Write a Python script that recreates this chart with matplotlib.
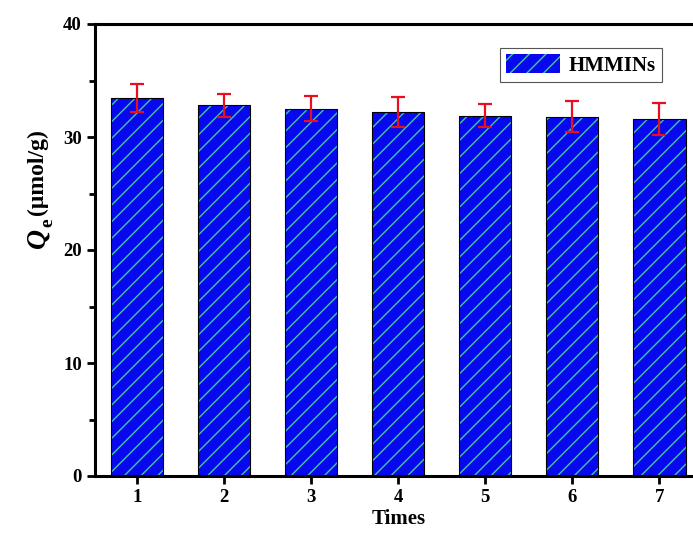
import numpy as np
import matplotlib.pyplot as plt
from matplotlib.patches import Patch

plt.rcParams['font.family'] = ['Liberation Serif', 'DejaVu Serif']
plt.rcParams['font.weight'] = 'bold'
plt.rcParams['hatch.linewidth'] = 1.0

times = [1, 2, 3, 4, 5, 6, 7]
qe = [33.45, 32.8, 32.5, 32.2, 31.9, 31.8, 31.6]
err = [1.2, 1.0, 1.1, 1.3, 1.0, 1.4, 1.45]

blue = '#0808ee'
hatch_col = '#40c8a0'

fig = plt.figure(figsize=(6.93, 5.39), dpi=100)
# right spine falls outside the picture, as in the original crop
ax = fig.add_axes([95/693, 1 - 476/539, 608/693, 452/539])

# hatched fill, then black outline on top
ax.bar(times, qe, width=0.6, color=blue, edgecolor=hatch_col, hatch='//', linewidth=0)
ax.bar(times, qe, width=0.6, fill=False, edgecolor='black', linewidth=0.8)
ax.errorbar(times, qe, yerr=err, fmt='none', ecolor='#e8101e', elinewidth=1.6,
            capsize=5, capthick=1.6)

h = Patch(facecolor=blue, edgecolor=hatch_col, hatch='//', linewidth=0)
leg = ax.legend([h], ['HMMINs'], loc='upper right', bbox_to_anchor=(0.95, 0.97),
                fancybox=False, framealpha=1, edgecolor='#555555',
                prop={'size': 15, 'weight': 'bold'}, handlelength=2.6,
                handleheight=1.0, borderpad=0.3, handletextpad=0.4)
leg.get_frame().set_linewidth(0.8)

ax.set_xlim(0.52, 7.5)
ax.set_ylim(0, 40)
ax.set_xticks(times)
ax.set_yticks([0, 10, 20, 30, 40])
ax.set_yticks([5, 15, 25, 35], minor=True)
ax.tick_params(axis='both', which='major', direction='out', width=2, length=6,
               labelsize=13.5)
ax.tick_params(axis='y', which='minor', direction='out', width=2, length=4)
for s in ax.spines.values():
    s.set_linewidth(2.2)

ax.set_xlabel('Times', fontsize=15, fontweight='bold', labelpad=2)

# y label: Q_e (umol/g), built from pieces so Q is italic
fig.canvas.draw()
t1 = fig.text(38, 539 - 248, 'Q', fontsize=20, fontweight='bold', style='italic',
              rotation=90, va='bottom', ha='center', transform=None)
fig.canvas.draw()
bb = t1.get_window_extent()
t2 = fig.text(bb.x0 + bb.width*0.72 + 4, bb.y1 + 1, 'e', fontsize=14,
              fontweight='bold', rotation=90, va='bottom', ha='center',
              transform=None)
fig.canvas.draw()
bb2 = t2.get_window_extent()
fig.text(bb.x0 + bb.width/2 - 1, bb2.y1 + 3, '(\u03bcmol/g)', fontsize=17,
         fontweight='bold', rotation=90, va='bottom', ha='center',
         transform=None)

fig.savefig('out.png', dpi=100)
